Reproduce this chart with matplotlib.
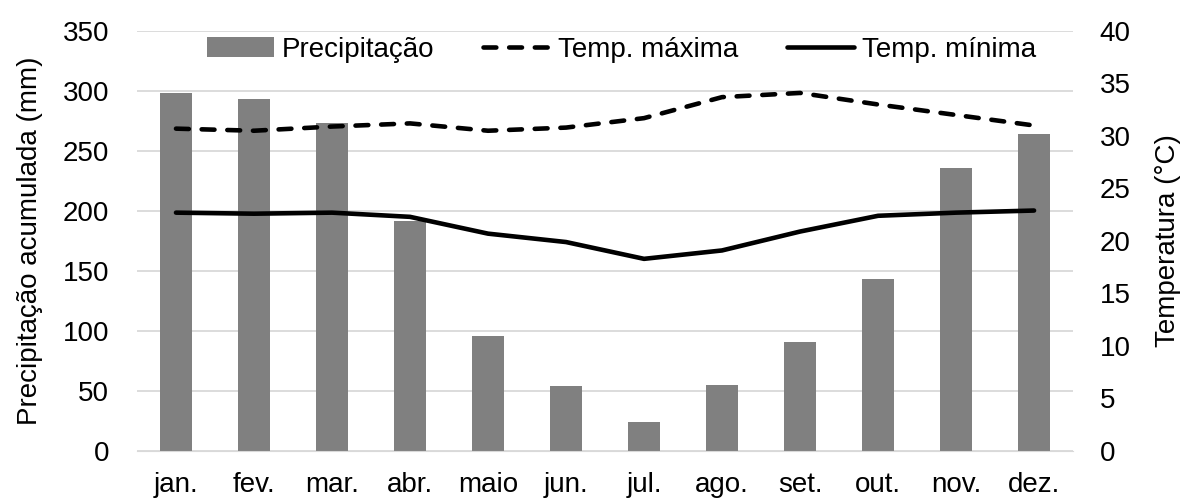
import matplotlib.pyplot as plt
import numpy as np

plt.rcParams['font.family'] = ['Liberation Sans', 'DejaVu Sans']

# monthly climate data
months = ['jan.', 'fev.', 'mar.', 'abr.', 'maio', 'jun.',
          'jul.', 'ago.', 'set.', 'out.', 'nov.', 'dez.']
precip = [298, 293, 273, 192, 96, 54, 24, 55, 91, 143, 236, 264]
temp_max = [30.7, 30.5, 30.9, 31.2, 30.5, 30.8, 31.7, 33.7, 34.1, 33.0, 32.0, 31.0]
temp_min = [22.7, 22.6, 22.7, 22.3, 20.7, 19.9, 18.3, 19.1, 20.9, 22.4, 22.7, 22.9]

fs = 20

fig = plt.figure(figsize=(11.84, 4.99), dpi=100)
ax = fig.add_axes([0.1157, 0.0962, 0.7906, 0.8417])
ax2 = ax.twinx()

x = np.arange(len(months))
bars = ax.bar(x, precip, width=0.4, color='#808080', zorder=2, label='Precipitação')

ax.set_xlim(-0.5, len(months) - 0.5)
ax.set_ylim(0, 350)
ax.set_yticks(range(0, 351, 50))
ax.grid(axis='y', color='#d9d9d9', linewidth=1.3, zorder=0)
ax.set_axisbelow(True)
ax.set_xticks(x)
ax.set_xticklabels(months)

l1, = ax2.plot(x, temp_max, color='black', linewidth=3.3, linestyle=(0, (2.8, 2.8)),
               dash_capstyle='round', solid_joinstyle='round', label='Temp. máxima')
l2, = ax2.plot(x, temp_min, color='black', linewidth=3.3, solid_capstyle='round',
               solid_joinstyle='round', label='Temp. mínima')
ax2.set_ylim(0, 40)
ax2.set_yticks(range(0, 41, 5))

for a in (ax, ax2):
    for s in a.spines.values():
        s.set_visible(False)
    a.tick_params(length=0, labelsize=fs, colors='black')
ax.spines['bottom'].set_visible(True)
ax.spines['bottom'].set_color('#d9d9d9')
ax.tick_params(axis='x', pad=15)
ax.tick_params(axis='y', pad=20)
ax2.tick_params(axis='y', pad=19)

ax.set_ylabel('Precipitação acumulada (mm)', fontsize=fs, labelpad=14)
ax2.set_ylabel('Temperatura (°C)', fontsize=fs, labelpad=18)

ax2.legend([bars, l1, l2], ['Precipitação', 'Temp. máxima', 'Temp. mínima'],
           loc='center left', bbox_to_anchor=(0.048, 0.955), ncol=3, frameon=False,
           fontsize=fs, handlelength=2.4, handletextpad=0.3, columnspacing=1.75)

fig.savefig('out.png', dpi=100)
